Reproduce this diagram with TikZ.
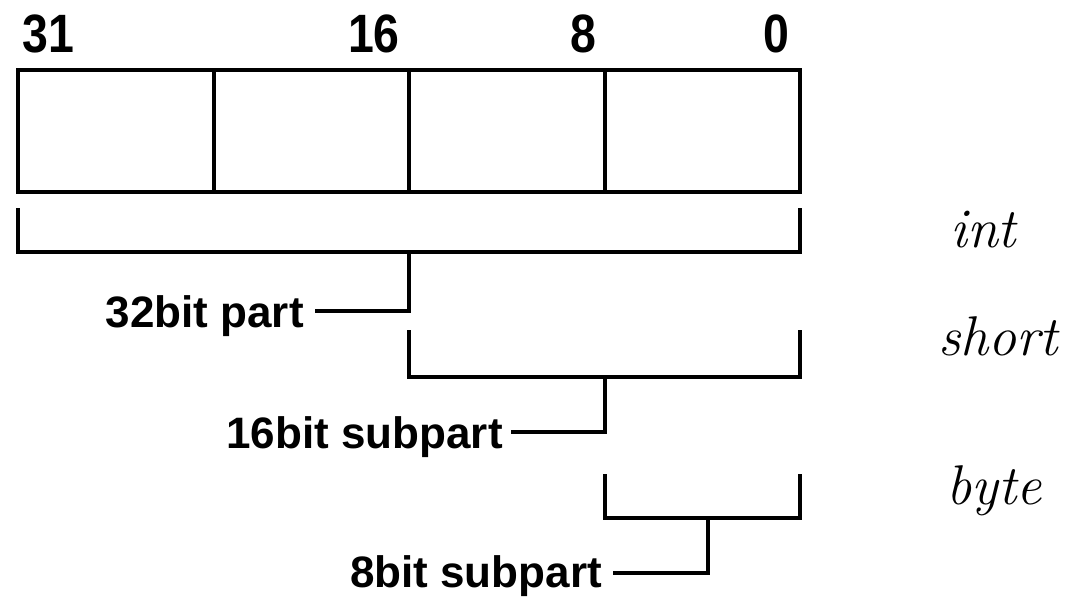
\documentclass[tikz,border=0pt]{standalone}
\usepackage{graphicx}
\usepackage{fontspec}
\setmainfont{Liberation Sans}
\newfontfamily\handfont{Latin Modern Roman}
\newcommand{\narrownum}[1]{\scalebox{0.86}[1]{#1}}
\begin{document}
\begin{tikzpicture}[x=1pt,y=-1pt,
  rule/.style={line width=3.6pt, line cap=rect, black},
  bitno/.style={inner sep=0pt, font=\fontsize{54}{60}\selectfont\bfseries},
  partlabel/.style={inner sep=0pt, anchor=base east, font=\fontsize{44}{50}\selectfont\bfseries},
  typename/.style={inner sep=0pt, anchor=base west, font=\fontsize{56}{62}\handfont\itshape}]
  \useasboundingbox (0,0) rectangle (1068,597);

  % bit numbers over the register
  \node[bitno, anchor=base west] (n31) at (22,52) {\narrownum{31}};
  \node[bitno, anchor=base east] (n16) at (400,52) {\narrownum{16}};
  \node[bitno, anchor=base east] (n8)  at (597,52) {\narrownum{8}};
  \node[bitno, anchor=base east] (n0)  at (790,52) {\narrownum{0}};

  % the 32-bit register split into four bytes
  \coordinate (r0) at (18,70);
  \coordinate (r1) at (800,192);
  \draw[rule] (r0) rectangle (r1);
  \foreach \x in {214,409,605} {
    \draw[rule] (\x,70) -- (\x,192);
  }

  % 32-bit bracket
  \coordinate (a1) at (18,210);   \coordinate (a2) at (800,210);
  \coordinate (a3) at (409,252);  \coordinate (a4) at (409,311);
  \coordinate (a5) at (317,311);
  \draw[rule] (a1) -- (18,252) -- (800,252) -- (a2);
  \draw[rule] (a3) -- (a4) -- (a5);
  \node[partlabel] (p32) at (304,327) {32bit part};

  % 16-bit bracket
  \coordinate (b1) at (409,332);  \coordinate (b2) at (800,332);
  \coordinate (b3) at (605,377);  \coordinate (b4) at (605,432);
  \coordinate (b5) at (513,432);
  \draw[rule] (b1) -- (409,377) -- (800,377) -- (b2);
  \draw[rule] (b3) -- (b4) -- (b5);
  \node[partlabel] (p16) at (503,448) {16bit subpart};

  % 8-bit bracket
  \coordinate (c1) at (605,476);  \coordinate (c2) at (800,476);
  \coordinate (c3) at (708,518);  \coordinate (c4) at (708,573);
  \coordinate (c5) at (615,573);
  \draw[rule] (c1) -- (605,518) -- (800,518) -- (c2);
  \draw[rule] (c3) -- (c4) -- (c5);
  \node[partlabel] (p8) at (602,587) {8bit subpart};

  % C type names
  \node[typename] (tint)   at (950,247) {int};
  \node[typename] (tshort) at (938,355) {short};
  \node[typename] (tbyte)  at (946,504) {byte};
\end{tikzpicture}
\end{document}
